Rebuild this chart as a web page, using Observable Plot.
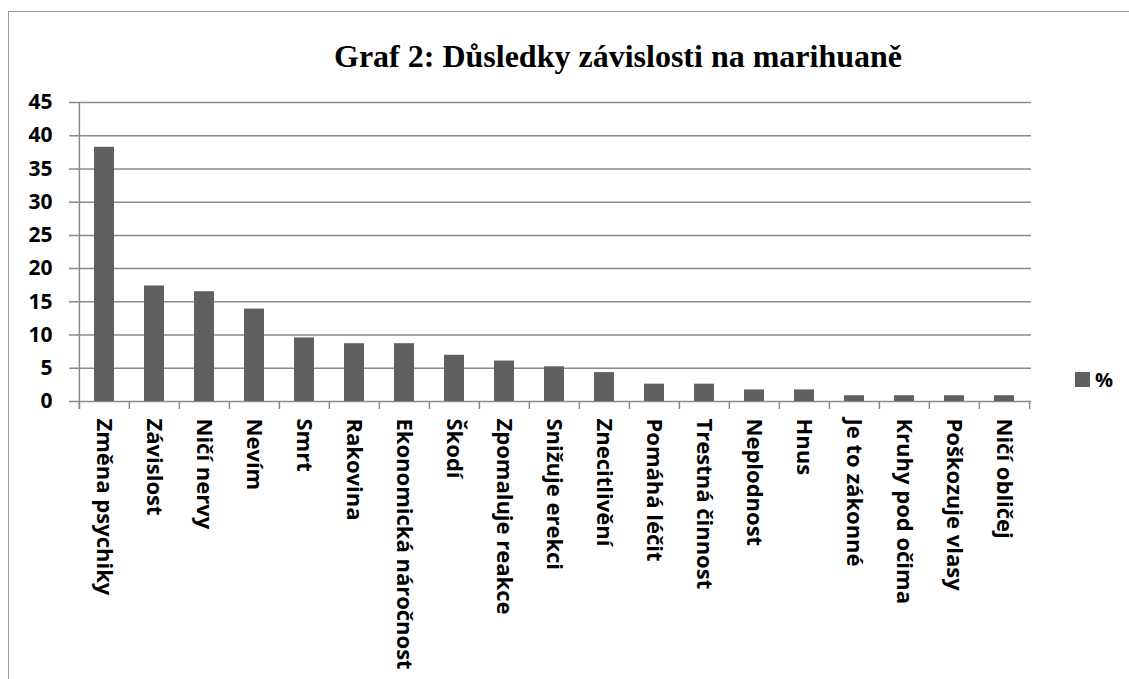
<!DOCTYPE html>
<html>
<head>
<meta charset="utf-8">
<script src="https://cdn.jsdelivr.net/npm/d3@7"></script>
<script src="https://cdn.jsdelivr.net/npm/@observablehq/plot@0.6"></script>
<style>
  html, body { margin: 0; padding: 0; background: #fff; }
  #wrap { position: relative; width: 1129px; height: 679px; overflow: hidden; }
  #border { position: absolute; left: 8px; top: 11px; width: 1300px; height: 800px;
            border-left: 1.5px solid #9a9a9a; border-top: 1.5px solid #9a9a9a; }
  #title { position: absolute; left: 618px; top: 40px; transform: translateX(-50%);
           font-family: "Liberation Serif", "Times New Roman", serif; font-weight: bold;
           font-size: 32px; line-height: 32px; white-space: nowrap; color: #000; }
  #legend { position: absolute; left: 1075px; top: 366px; display: flex; align-items: center;
            font-family: "Open Sans", Lato, sans-serif; font-weight: bold; font-size: 20px; }
  #legend .sw { width: 15px; height: 15px; background: #606060; margin-right: 5px; }
  #chart { position: absolute; left: 0; top: 0; }
</style>
</head>
<body>
<div id="wrap">
  <div id="border"></div>
  <div id="chart"></div>
  <div id="title"></div>
  <div id="legend"><div class="sw"></div><span id="legendLabel"></span></div>
</div>
<script>
const titleText = "Graf 2: Důsledky závislosti na marihuaně";
const seriesName = "%";
const categories = [
  "Změna psychiky", "Závislost", "Ničí nervy", "Nevím", "Smrt", "Rakovina",
  "Ekonomická náročnost", "Škodí", "Zpomaluje reakce", "Snižuje erekci",
  "Znecitlivění", "Pomáhá léčit", "Trestná činnost", "Neplodnost", "Hnus",
  "Je to zákonné", "Kruhy pod očima", "Poškozuje vlasy", "Ničí obličej"
];
const values = [
  38.26, 17.39, 16.52, 13.91, 9.57, 8.70,
  8.70, 6.96, 6.09, 5.22,
  4.35, 2.61, 2.61, 1.74, 1.74,
  0.87, 0.87, 0.87, 0.87
];
const yTicks = [0, 5, 10, 15, 20, 25, 30, 35, 40, 45];

document.getElementById("title").textContent = titleText;
document.getElementById("legendLabel").textContent = seriesName;

const data = categories.map((c, i) => ({category: c, value: values[i]}));

const W = 1129, H = 679;
const mL = 77, mR = 98, mT = 102, mB = 278;
const bw = (W - mL - mR) / categories.length;
const gridColor = "#8a8a8a";

const chart = Plot.plot({
  width: W,
  height: H,
  marginLeft: mL,
  marginRight: mR,
  marginTop: mT,
  marginBottom: mB,
  style: {fontFamily: "'Open Sans', Lato, sans-serif", fontWeight: "bold", fontSize: "20px", color: "#000", background: "transparent", overflow: "visible"},
  x: {domain: categories, padding: 0, label: null},
  y: {domain: [0, 45], label: null},
  marks: [
    Plot.ruleY(yTicks, {y: d => d, stroke: gridColor, strokeWidth: 1.5, insetLeft: -8}),
    Plot.barY(data, {x: "category", y: "value", fill: "#606060", insetLeft: 15, insetRight: 15}),
    Plot.ruleX(categories, {x: d => d, dx: -bw / 2, y1: 0, y2: 0, insetBottom: -8, stroke: gridColor, strokeWidth: 1.5}),
    Plot.ruleX([categories[categories.length - 1]], {x: d => d, dx: bw / 2, y1: 0, y2: 0, insetBottom: -8, stroke: gridColor, strokeWidth: 1.5}),
    Plot.ruleX([categories[0]], {x: d => d, dx: -bw / 2, y1: 45, y2: 0, insetBottom: -8, stroke: gridColor, strokeWidth: 1.5}),
    Plot.axisY({ticks: yTicks, tickSize: 0, tickPadding: 25, fontSize: 21, fontWeight: "bold"}),
    Plot.axisX({tickSize: 0, tickRotate: 90, tickPadding: 17, fontSize: 22, fontWeight: "bold"})
  ]
});
document.getElementById("chart").appendChild(chart);
</script>
</body>
</html>
